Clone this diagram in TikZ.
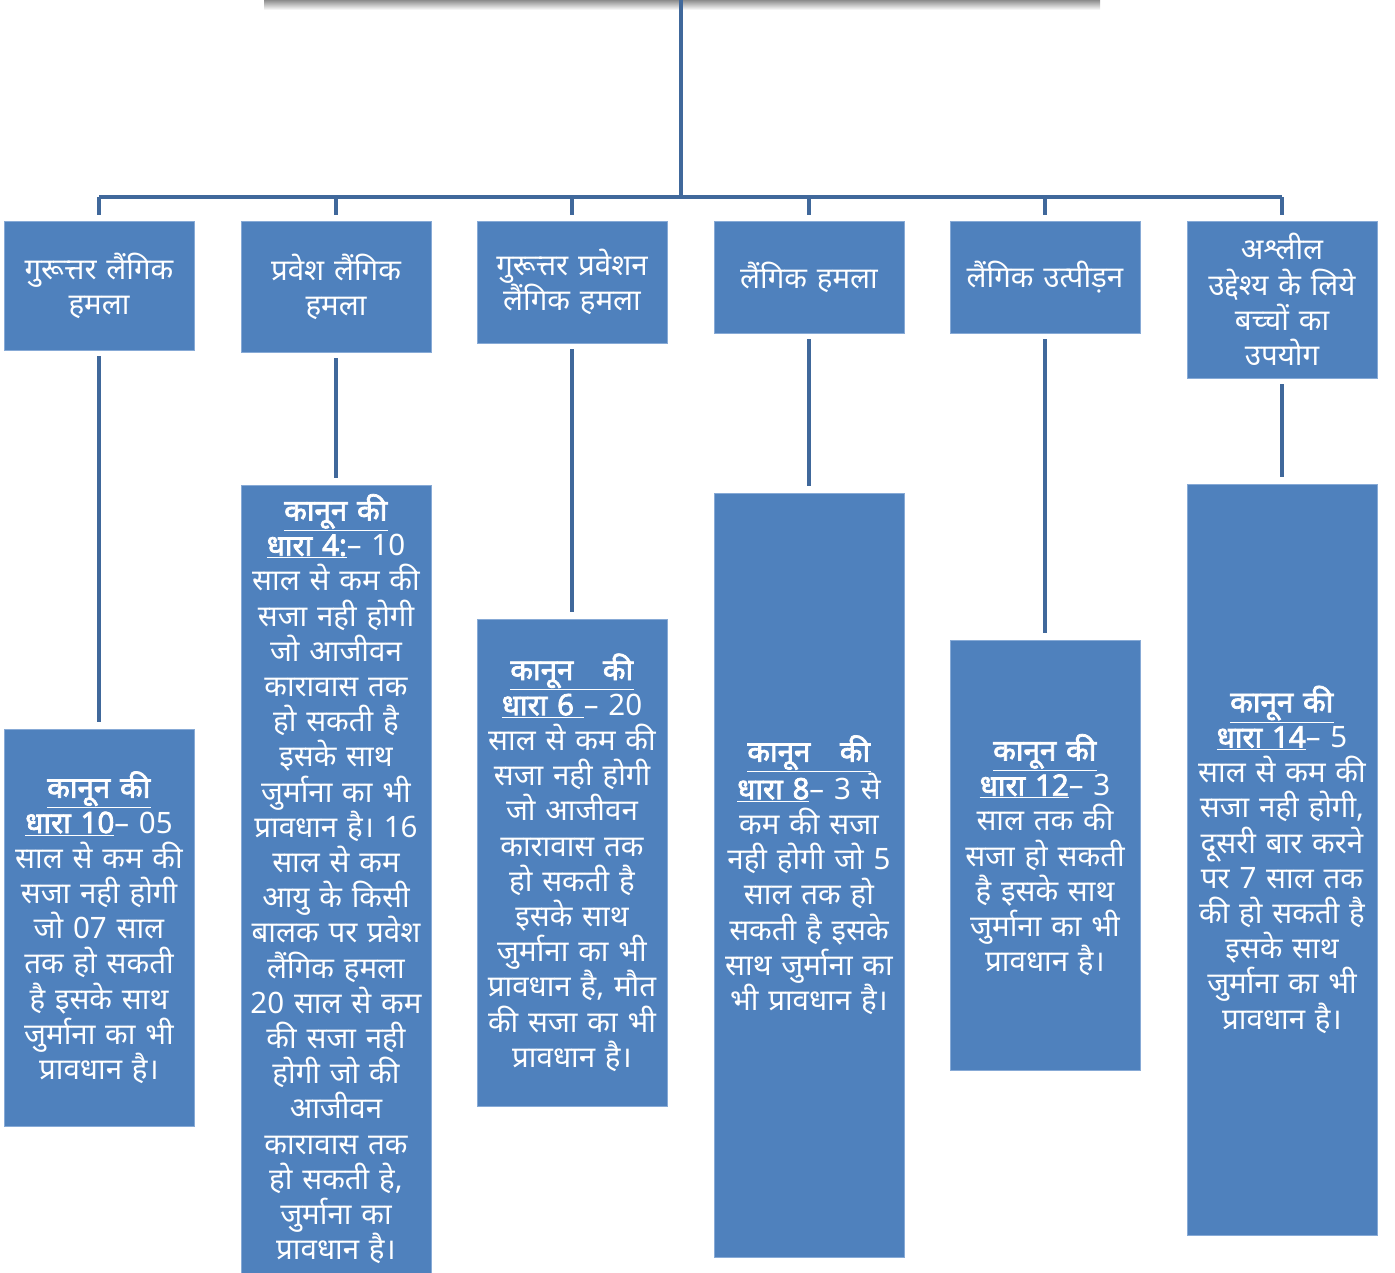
\documentclass[tikz,border=0pt]{standalone}
\usepackage{fontspec}
\newfontfamily\hin[Script=Devanagari, WordSpace=1.8, BoldFont={Noto Sans}, BoldFeatures={FakeBold=2.5}]{Noto Sans}
\definecolor{boxblue}{RGB}{79,129,189}
\definecolor{boxedge}{RGB}{135,170,214}
\definecolor{conncol}{RGB}{64,104,155}
\tikzset{
  box/.style={rectangle, fill=boxblue, draw=boxedge, line width=0.8pt,
    minimum width=190pt, text width=190pt, inner sep=0pt, align=center,
    text=white, font=\hin\fontsize{29.5}{35.2}\selectfont},
  conn/.style={draw=conncol, line width=3.5pt},
}
\newcommand\hd[1]{\underline{\textbf{#1}}}
\begin{document}
\begin{tikzpicture}[x=1pt,y=-1pt]
\useasboundingbox (0,0) rectangle (1395,1273);
% shadow of the cut-off top box
\shade[top color=black!45, bottom color=white] (264,0) rectangle (1100,10);
\coordinate (root) at (681,0);
\coordinate (bus) at (681,197);
% top boxes
\node[box, minimum height=129pt] (t1) at (99,285.5) {गुरूत्तर लैंगिक\\हमला};
\node[box, minimum height=131pt] (t2) at (336,286.5) {प्रवेश लैंगिक\\हमला};
\node[box, minimum height=122pt] (t3) at (572,282) {गुरूत्तर प्रवेशन\\लैंगिक हमला};
\node[box, minimum height=112pt] (t4) at (809,277) {लैंगिक हमला};
\node[box, minimum height=112pt] (t5) at (1045,277) {लैंगिक उत्पीड़न};
\node[box, minimum height=157pt] (t6) at (1282,299.5) {अश्लील\\उद्देश्य के लिये\\बच्चों का\\उपयोग};
% bottom boxes
\node[box, minimum height=397pt] (b1) at (99,927.5) {\hd{कानून की}\\\hd{धारा 10}– 05\\साल से कम की\\सजा नही होगी\\जो 07 साल\\तक हो सकती\\है इसके साथ\\जुर्माना का भी\\प्रावधान है।};
\node[box, minimum height=788pt] (b2) at (336,879) {\hd{कानून की}\\\hd{धारा 4:}– 10\\साल से कम की\\सजा नही होगी\\जो आजीवन\\कारावास तक\\हो सकती है\\इसके साथ\\जुर्माना का भी\\प्रावधान है। 16\\साल से कम\\आयु के किसी\\बालक पर प्रवेश\\लैंगिक हमला\\20 साल से कम\\की सजा नही\\होगी जो की\\आजीवन\\कारावास तक\\हो सकती हे,\\जुर्माना का\\प्रावधान है।};
\node[box, minimum height=487pt] (b3) at (572,862.5) {\hd{कानून\quad की}\\\hd{धारा 6 }– 20\\साल से कम की\\सजा नही होगी\\जो आजीवन\\कारावास तक\\हो सकती है\\इसके साथ\\जुर्माना का भी\\प्रावधान है, मौत\\की सजा का भी\\प्रावधान है।};
\node[box, minimum height=764pt] (b4) at (809,875) {\hd{कानून\quad की}\\\hd{धारा 8}– 3 से\\कम की सजा\\नही होगी जो 5\\साल तक हो\\सकती है इसके\\साथ जुर्माना का\\भी प्रावधान है।};
\node[box, minimum height=430pt] (b5) at (1045,855) {\hd{कानून की}\\\hd{धारा 12}– 3\\साल तक की\\सजा हो सकती\\है इसके साथ\\जुर्माना का भी\\प्रावधान है।};
\node[box, minimum height=751pt] (b6) at (1282,859.5) {\hd{कानून की}\\\hd{धारा 14}– 5\\साल से कम की\\सजा नही होगी,\\दूसरी बार करने\\पर 7 साल तक\\की हो सकती है\\इसके साथ\\जुर्माना का भी\\प्रावधान है।};
% connectors
\draw[conn] (root) -- (bus);
\draw[conn] (t1.north |- bus) -- (t6.north |- bus);
\foreach \n in {t1,t2,t3,t4,t5,t6}
  \draw[conn, shorten <=6pt] (\n.north) -- (\n.north |- bus);
\foreach \a/\b in {t1/b1,t2/b2,t3/b3,t4/b4,t5/b5,t6/b6}
  \draw[conn, shorten <=6pt, shorten >=7pt] (\a.south) -- (\b.north);
\end{tikzpicture}
\end{document}
